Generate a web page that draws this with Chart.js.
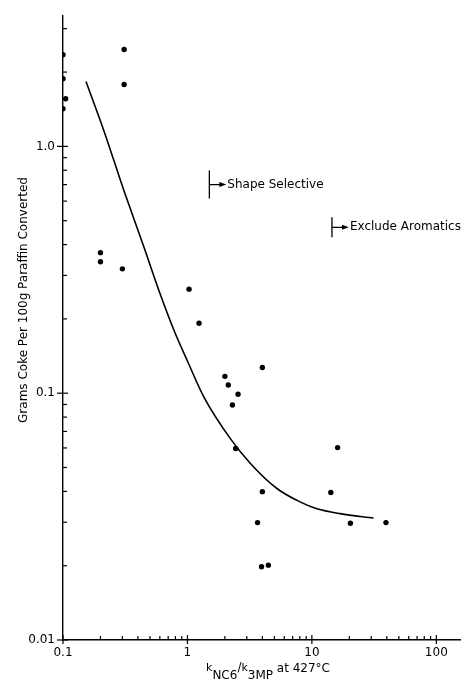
<!DOCTYPE html>
<html lang="en">
<head>
    <meta charset="UTF-8">
    <title>Coke vs shape selectivity</title>
    <script src="https://cdn.jsdelivr.net/npm/chart.js"></script>
    <style>
        body { margin: 0; background: #fff; }
        .chart-box { width: 464px; height: 681px; position: relative; }
    </style>
</head>
<body>
    <div class="chart-box">
        <canvas id="cokeChart"></canvas>
    </div>

    <script>
        // Datos
        const pointX = [0.1, 0.1, 0.105, 0.1, 0.31, 0.31, 0.2, 0.2, 0.3, 1.03, 1.24, 4.0, 2.0, 2.13, 2.55, 2.3, 2.44, 16.1, 4.0, 14.2, 3.66, 20.4, 39.4, 3.94, 4.47];
        const pointY = [2.35, 1.88, 1.56, 1.42, 2.47, 1.78, 0.371, 0.341, 0.319, 0.264, 0.192, 0.127, 0.117, 0.108, 0.099, 0.0896, 0.0597, 0.0602, 0.0399, 0.0396, 0.0299, 0.0297, 0.0299, 0.0198, 0.0201];

        const curveX = [0.153, 0.214, 0.31, 0.449, 0.611, 0.782, 1.0, 1.36, 2.22, 3.22, 5.27, 8.11, 11.0, 16.9, 31.3];
        const curveY = [1.83, 1.15, 0.658, 0.388, 0.248, 0.179, 0.135, 0.0962, 0.0653, 0.0518, 0.041, 0.0362, 0.034, 0.0325, 0.0312];

        const xMajor = [0.1, 1, 10, 100];
        const xTickLabels = ['0.1', '1', '10', '100'];
        const yMajor = [0.01, 0.1, 1];
        const yTickLabels = ['0.01', '0.1', '1.0'];

        // marcas: [x del corchete, y, texto]
        const markX = [1.5, 14.5];
        const markY = [0.7, 0.47];
        const markText = ['Shape Selective', 'Exclude Aromatics'];

        const FONT = '"DejaVu Sans", sans-serif';

        function logTicks(major, max) {
            const out = [];
            major.forEach(m => {
                for (let k = 1; k <= 9; k++) {
                    const v = +(m * k).toPrecision(3);
                    if (v <= max) out.push(v);
                }
            });
            return out;
        }

        function labelFor(value, majors, labels) {
            const i = majors.findIndex(m => Math.abs(m - value) / m < 1e-6);
            return i >= 0 ? labels[i] : '';
        }

        // Marcas hacia adentro, anotaciones y titulos
        const extras = {
            id: 'extras',
            afterDraw(chart) {
                const ctx = chart.ctx;
                const xs = chart.scales.x, ys = chart.scales.y;
                const area = chart.chartArea;
                ctx.save();
                ctx.strokeStyle = '#000';
                ctx.fillStyle = '#000';
                ctx.lineWidth = 1.2;

                xs.ticks.forEach(t => {
                    const px = xs.getPixelForValue(t.value);
                    const big = labelFor(t.value, xMajor, xTickLabels) !== '';
                    ctx.beginPath();
                    ctx.moveTo(px, area.bottom + (big ? 4 : 0));
                    ctx.lineTo(px, area.bottom - (big ? 5 : 4));
                    ctx.stroke();
                });
                ys.ticks.forEach(t => {
                    const py = ys.getPixelForValue(t.value);
                    const big = labelFor(t.value, yMajor, yTickLabels) !== '';
                    ctx.beginPath();
                    ctx.moveTo(area.left - (big ? 6 : 0), py);
                    ctx.lineTo(area.left + (big ? 5 : 4), py);
                    ctx.stroke();
                });

                // anotaciones con corchete y flecha
                ctx.font = '12px ' + FONT;
                ctx.textBaseline = 'middle';
                ctx.textAlign = 'left';
                markText.forEach((txt, i) => {
                    const px = xs.getPixelForValue(markX[i]);
                    const py = ys.getPixelForValue(markY[i]);
                    const h = i === 0 ? 14 : 10;
                    ctx.lineWidth = 1.3;
                    ctx.beginPath();
                    ctx.moveTo(px, py - h);
                    ctx.lineTo(px, py + h);
                    ctx.moveTo(px, py);
                    ctx.lineTo(px + 12, py);
                    ctx.stroke();
                    ctx.beginPath();
                    ctx.moveTo(px + 17, py);
                    ctx.lineTo(px + 10, py - 2.5);
                    ctx.lineTo(px + 10, py + 2.5);
                    ctx.closePath();
                    ctx.fill();
                    ctx.fillText(txt, px + 18, py);
                });

                // titulo eje y
                ctx.save();
                ctx.translate(24, 300);
                ctx.rotate(-Math.PI / 2);
                ctx.textAlign = 'center';
                ctx.fillText('Grams Coke Per 100g Paraffin Converted', 0, 0);
                ctx.restore();

                // titulo eje x con subindices
                const parts = [
                    ['k', 11, 0], ['NC6', 12, 8], ['/', 12, 0], ['k', 11, 0], ['3MP', 12, 8], [' at 427\u00B0C', 12, 1]
                ];
                let total = 0;
                parts.forEach(p => { ctx.font = p[1] + 'px ' + FONT; total += ctx.measureText(p[0]).width; });
                let cx = 268 - total / 2;
                const base = 671;
                ctx.textBaseline = 'alphabetic';
                parts.forEach(p => {
                    ctx.font = p[1] + 'px ' + FONT;
                    ctx.fillText(p[0], cx, base + p[2]);
                    cx += ctx.measureText(p[0]).width;
                });
                ctx.restore();
            }
        };

        const ctx = document.getElementById('cokeChart').getContext('2d');
        new Chart(ctx, {
            type: 'scatter',
            data: {
                datasets: [
                    {
                        type: 'line',
                        data: curveX.map((x, i) => ({ x: x, y: curveY[i] })),
                        borderColor: '#000',
                        borderWidth: 1.6,
                        pointRadius: 0,
                        fill: false,
                        cubicInterpolationMode: 'monotone'
                    },
                    {
                        data: pointX.map((x, i) => ({ x: x, y: pointY[i] })),
                        backgroundColor: '#000',
                        borderColor: '#000',
                        pointRadius: 2.7,
                        borderWidth: 0
                    }
                ]
            },
            options: {
                responsive: true,
                maintainAspectRatio: false,
                animation: false,
                layout: { padding: { left: 18, right: 4, top: 12, bottom: 13 } },
                plugins: { legend: { display: false }, tooltip: { enabled: false } },
                scales: {
                    x: {
                        type: 'logarithmic',
                        min: 0.1,
                        max: 155,
                        afterBuildTicks: s => { s.ticks = logTicks(xMajor, 155).map(v => ({ value: v })); },
                        afterFit: s => { s.height = 28; },
                        grid: { display: false, drawTicks: false },
                        border: { display: true, color: '#000', width: 1.4 },
                        ticks: {
                            autoSkip: false,
                            maxRotation: 0,
                            padding: 6,
                            color: '#000',
                            font: { family: FONT, size: 12 },
                            callback: v => labelFor(v, xMajor, xTickLabels)
                        }
                    },
                    y: {
                        type: 'logarithmic',
                        min: 0.01,
                        max: 3.4,
                        afterBuildTicks: s => { s.ticks = logTicks(yMajor, 3.4).map(v => ({ value: v })); },
                        afterFit: s => { s.width = 45; },
                        grid: { display: false, drawTicks: false },
                        border: { display: true, color: '#000', width: 1.4 },
                        ticks: {
                            autoSkip: false,
                            padding: 8,
                            color: '#000',
                            font: { family: FONT, size: 12 },
                            callback: v => labelFor(v, yMajor, yTickLabels)
                        }
                    }
                }
            },
            plugins: [extras]
        });
    </script>
</body>
</html>
